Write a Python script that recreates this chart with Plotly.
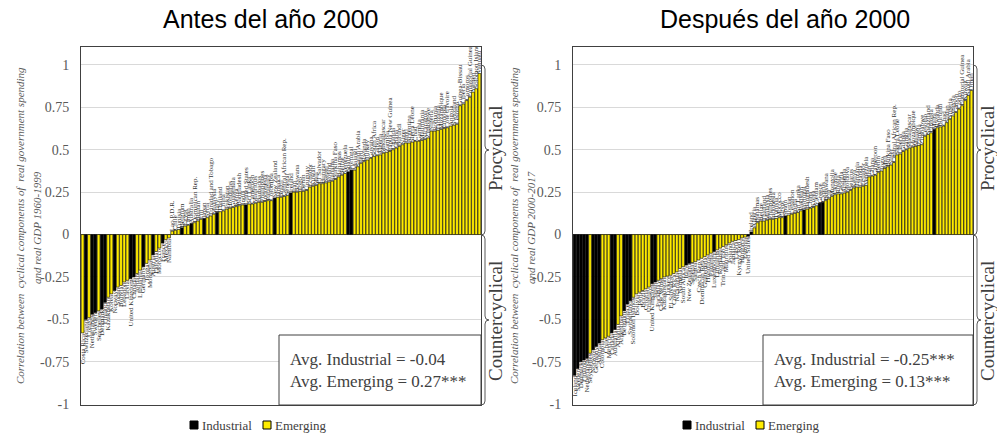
import plotly.graph_objects as go

W, H = 997, 434

# ---------------- data ----------------
industrial = ["Australia", "Austria", "Belgium", "Canada", "Denmark", "Finland", "France",
              "Germany", "Greece", "Iceland", "Ireland", "Italy", "Japan", "Luxembourg",
              "Netherlands", "New Zealand", "Norway", "Portugal", "Spain", "Sweden",
              "Switzerland", "United Kingdom", "United States", "Malta", "Cyprus"]

countries_pre = [
    "Costa Rica", "Switzerland", "Congo", "Netherlands", "Sweden", "Seychelles", "Denmark",
    "Finland", "Kazakhstan", "Korea", "Norway", "Sudan", "Bolivia", "Lebanon", "Latvia",
    "United Kingdom", "Canada", "Jordan", "Lithuania", "Germany", "Tonga", "Mongolia",
    "Austria", "Estonia", "Morocco", "France", "Mexico", "Namibia",
    "Lao P.D.R.", "Chile", "Tunisia", "Belgium", "Egypt", "Oman", "Australia",
    "Dominican Rep.", "Bhutan", "Fiji", "Japan", "Syria", "Trinidad and Tobago", "Malaysia",
    "Italy", "Thailand", "China", "Pakistan", "Honduras", "Guatemala", "Kenya", "Bangladesh",
    "India", "United States", "Sri Lanka", "Cameroon", "Mauritius", "Barbados", "Philippines",
    "Indonesia", "Paraguay", "Colombia", "New Zealand", "Jamaica", "Brazil",
    "Central African Rep.", "Senegal", "Ireland", "Iran", "Botswana", "Togo", "Benin",
    "Uruguay", "Ecuador", "Kuwait", "Mali", "El Salvador", "Hungary", "Nepal", "Poland",
    "Panama", "Burkina Faso", "Bahamas", "Belize", "Venezuela", "Spain", "Portugal", "Malawi",
    "Saudi Arabia", "Peru", "Rwanda", "Turkey", "Guyana", "South Africa", "Gabon", "Algeria",
    "Madagascar", "Zambia", "Papua New Guinea", "Uganda", "Ghana", "Burundi", "Niger", "Haiti",
    "Argentina", "Sierra Leone", "Chad", "Gambia", "Mauritania", "Nicaragua", "Zimbabwe",
    "Nigeria", "Romania", "Tanzania", "Mozambique", "Ethiopia", "Cote d'Ivoire", "Angola",
    "Swaziland", "Lesotho", "Guinea-Bissau", "Liberia", "Comoros", "Equatorial Guinea",
    "Yemen", "Solomon Islands", "Vanuatu"]

corr_pre = [
    -0.58, -0.50, -0.49, -0.47, -0.46, -0.45, -0.44, -0.40, -0.37, -0.35, -0.33, -0.31,
    -0.30, -0.28, -0.27, -0.26, -0.25, -0.23, -0.21, -0.19, -0.17, -0.15, -0.12, -0.10,
    -0.08, -0.05, -0.03, -0.02,
    0.02, 0.025, 0.03, 0.04, 0.05, 0.055, 0.065, 0.07, 0.08, 0.09, 0.095, 0.10, 0.11, 0.12,
    0.13, 0.135, 0.14, 0.15, 0.155, 0.16, 0.165, 0.17, 0.175, 0.175, 0.18, 0.18, 0.185, 0.19,
    0.19, 0.195, 0.20, 0.20, 0.215, 0.22, 0.22, 0.225, 0.23, 0.245, 0.25, 0.25, 0.255, 0.255,
    0.26, 0.28, 0.285, 0.29, 0.30, 0.30, 0.305, 0.31, 0.315, 0.325, 0.34, 0.35, 0.36, 0.37,
    0.38, 0.38, 0.40, 0.42, 0.43, 0.44, 0.45, 0.46, 0.465, 0.47, 0.48, 0.485, 0.49, 0.50,
    0.51, 0.52, 0.53, 0.54, 0.54, 0.545, 0.55, 0.55, 0.555, 0.56, 0.57, 0.61, 0.61, 0.615,
    0.62, 0.625, 0.63, 0.64, 0.645, 0.65, 0.76, 0.77, 0.79, 0.81, 0.84, 0.86, 0.95]

countries_post = [
    "Iceland", "Sweden", "Denmark", "Finland", "Netherlands", "Seychelles", "Norway",
    "Germany", "Austria", "Colombia", "Chile", "Mexico", "Canada", "Australia", "Albania",
    "Argentina", "Belgium", "France", "Switzerland", "Solomon Islands", "Bolivia", "Peru",
    "Brazil", "Croatia", "Uruguay", "United Kingdom", "Japan", "Paraguay", "Cape Verde",
    "Kazakhstan", "Turkey", "El Salvador", "Costa Rica", "Nicaragua", "Namibia",
    "South Africa", "Italy", "New Zealand", "Senegal", "Samoa", "Czech Rep.",
    "Dominican Rep.", "Guatemala", "Honduras", "Panama", "Luxembourg", "Lithuania", "Romania",
    "Trin. and Tob.", "Mauritius", "Poland", "Jamaica", "Latvia", "Kyrgyz Rep.", "Hungary",
    "Estonia", "United States",
    "Ireland", "Algeria", "Bahamas", "Belize", "Thailand", "Malaysia", "Philippines",
    "Indonesia", "Tunisia", "Morocco", "Egypt", "Spain", "Jordan", "Lebanon", "India",
    "Sri Lanka", "Pakistan", "Portugal", "Bangladesh", "China", "Korea", "Vietnam", "Greece",
    "Cyprus", "Botswana", "Fiji", "Mongolia", "Ukraine", "Russia", "Georgia", "Armenia",
    "Moldova", "Belarus", "Kenya", "Tanzania", "Uganda", "Ecuador", "Venezuela", "Iran",
    "Ghana", "Cameroon", "Benin", "Togo", "Mali", "Burkina Faso", "Niger",
    "Central African Rep.", "Sierra Leone", "Liberia", "Guinea", "Gambia", "Madagascar",
    "Mozambique", "Malawi", "Zambia", "Zimbabwe", "Lesotho", "Swaziland", "Ethiopia", "Malta",
    "Rwanda", "Burundi", "Chad", "Sudan", "Nigeria", "Angola", "Gabon", "Congo",
    "Equatorial Guinea", "Kuwait", "Saudi Arabia", "Oman"]

corr_post = [
    -0.83, -0.79, -0.75, -0.74, -0.73, -0.70, -0.68, -0.66, -0.64, -0.62, -0.61, -0.60,
    -0.58, -0.56, -0.53, -0.48, -0.45, -0.41, -0.39, -0.37, -0.35, -0.34, -0.33, -0.32,
    -0.31, -0.29, -0.28, -0.27, -0.26, -0.25, -0.245, -0.24, -0.23, -0.22, -0.20, -0.19,
    -0.18, -0.17, -0.165, -0.16, -0.15, -0.14, -0.13, -0.12, -0.11, -0.10, -0.09, -0.08,
    -0.07, -0.06, -0.05, -0.04, -0.035, -0.03, -0.02, -0.015, -0.01,
    0.015, 0.04, 0.07, 0.08, 0.08, 0.085, 0.09, 0.09, 0.095, 0.10, 0.10, 0.11, 0.115, 0.12,
    0.125, 0.13, 0.14, 0.145, 0.15, 0.155, 0.16, 0.17, 0.185, 0.19, 0.20, 0.21, 0.225, 0.235,
    0.24, 0.24, 0.245, 0.25, 0.26, 0.275, 0.28, 0.28, 0.285, 0.29, 0.34, 0.345, 0.35, 0.365,
    0.375, 0.39, 0.40, 0.41, 0.425, 0.47, 0.475, 0.49, 0.50, 0.51, 0.515, 0.52, 0.525, 0.53,
    0.58, 0.59, 0.60, 0.62, 0.63, 0.635, 0.64, 0.66, 0.68, 0.70, 0.72, 0.74, 0.76, 0.79, 0.82,
    0.85]

assert len(countries_pre) == len(corr_pre)
assert len(countries_post) == len(corr_post)

titles = ["Antes del año 2000", "Después del año 2000"]
ytitle_line1 = "Correlation between  cyclical components of  real government spending"
ytitle_line2 = ["and real GDP 1960-1999", "and real GDP 2000-2017"]
avg_text = ["Avg. Industrial = -0.04<br>Avg. Emerging = 0.27***",
            "Avg. Industrial = -0.25***<br>Avg. Emerging = 0.13***"]
tick_vals = [-1, -0.75, -0.5, -0.25, 0, 0.25, 0.5, 0.75, 1]
tick_text = ["-1", "-0.75", "-0.5", "-0.25", "0", "0.25", "0.5", "0.75", "1"]
group_names = ["Industrial", "Emerging"]
group_colors = ["#000000", "#FFEC00"]

# ---------------- helpers ----------------
def X(p):
    return p / W

def Y(p):
    return 1 - p / H

SERIF = "Liberation Serif"
GRAY = "#595959"
DARK = "#404040"

fig = go.Figure()

panels = [(countries_pre, corr_pre, "x", "y"),
          (countries_post, corr_post, "x2", "y2")]

for names, vals, xa, ya in panels:
    for gi, gname in enumerate(group_names):
        xs, ys = [], []
        for n, v in zip(names, vals):
            is_ind = n in industrial
            if (gi == 0) == is_ind:
                xs.append(n)
                ys.append(v)
        fig.add_trace(go.Bar(
            x=xs, y=ys, name=gname, text=xs, xaxis=xa, yaxis=ya, showlegend=False,
            marker=dict(color=group_colors[gi], line=dict(color="#000000", width=0.6)),
            textposition="outside", textangle=-90, constraintext="none",
            textfont=dict(family=SERIF, size=7, color="#333333"),
            hovertemplate="%{x}: %{y:.2f}<extra></extra>"))

x_domains = [[81 / W, 481 / W], [573 / W, 973 / W]]
y_domain = [(H - 405) / H, (H - 47) / H]

axis_common = dict(showline=True, linecolor=DARK, linewidth=1, mirror=True)
for k, (names, vals, xa, ya) in enumerate(panels):
    xkey = "xaxis" if k == 0 else "xaxis2"
    ykey = "yaxis" if k == 0 else "yaxis2"
    fig.layout[xkey] = dict(domain=x_domains[k], type="category", categoryorder="array",
                            categoryarray=names, showticklabels=False, showgrid=False,
                            ticks="", anchor=ya, **axis_common)
    fig.layout[ykey] = dict(domain=y_domain, range=[-1.005, 1.106], tickvals=tick_vals,
                            ticktext=tick_text, showgrid=True, gridcolor="#d9d9d9",
                            zeroline=True, zerolinecolor="#808080", zerolinewidth=1,
                            ticks="", ticklabelstandoff=8, anchor=xa,
                            tickfont=dict(family=SERIF, size=14, color=GRAY), **axis_common)

annotations = []
shapes = []
# panel geometry in pixels
geo = [dict(cx=270, plot_r=481, box_l=279, text_l=288, brace=485, lab=495, yt1=20, yt2=37, leg=190),
       dict(cx=785, plot_r=973, box_l=763, text_l=772, brace=977, lab=987, yt1=514, yt2=531, leg=683)]

def brace_path(x0, ytop, ybot, d=4.0, tip=4.0):
    ym = (ytop + ybot) / 2
    pts = [
        f"M {X(x0 - d)},{Y(ytop)}",
        f"Q {X(x0)},{Y(ytop)} {X(x0)},{Y(ytop + d)}",
        f"L {X(x0)},{Y(ym - d)}",
        f"Q {X(x0)},{Y(ym)} {X(x0 + tip)},{Y(ym)}",
        f"Q {X(x0)},{Y(ym)} {X(x0)},{Y(ym + d)}",
        f"L {X(x0)},{Y(ybot - d)}",
        f"Q {X(x0)},{Y(ybot)} {X(x0 - d)},{Y(ybot)}",
    ]
    return " ".join(pts)

for k, g in enumerate(geo):
    annotations.append(dict(x=X(g["cx"]), y=Y(19), xref="paper", yref="paper", text=titles[k],
                            showarrow=False, xanchor="center", yanchor="middle",
                            font=dict(family="Liberation Sans", size=25, color="#000000")))
    annotations.append(dict(x=X(g["yt1"]), y=Y(226), xref="paper", yref="paper",
                            text="<i>" + ytitle_line1 + "</i>",
                            showarrow=False, textangle=-90, xanchor="center", yanchor="middle",
                            font=dict(family=SERIF, size=11, color=GRAY)))
    annotations.append(dict(x=X(g["yt2"]), y=Y(228), xref="paper", yref="paper",
                            text="<i>" + ytitle_line2[k] + "</i>",
                            showarrow=False, textangle=-90, xanchor="center", yanchor="middle",
                            font=dict(family=SERIF, size=11, color=GRAY)))
    shapes.append(dict(type="rect", xref="paper", yref="paper", x0=X(g["box_l"]), x1=X(g["plot_r"]),
                       y0=Y(335), y1=Y(405), line=dict(color=DARK, width=1), fillcolor="white",
                       layer="above"))
    annotations.append(dict(x=X(g["text_l"]), y=Y(370), xref="paper", yref="paper", text=avg_text[k],
                            showarrow=False, xanchor="left", yanchor="middle", align="left",
                            font=dict(family=SERIF, size=17, color=DARK)))
    shapes.append(dict(type="path", xref="paper", yref="paper",
                       path=brace_path(g["brace"], 65, 235), line=dict(color=GRAY, width=1)))
    shapes.append(dict(type="path", xref="paper", yref="paper",
                       path=brace_path(g["brace"], 235, 405), line=dict(color=GRAY, width=1)))
    annotations.append(dict(x=X(g["lab"]), y=Y(149), xref="paper", yref="paper", text="Procyclical",
                            showarrow=False, textangle=-90, xanchor="center", yanchor="middle",
                            font=dict(family=SERIF, size=19, color=DARK)))
    annotations.append(dict(x=X(g["lab"]), y=Y(321), xref="paper", yref="paper", text="Countercyclical",
                            showarrow=False, textangle=-90, xanchor="center", yanchor="middle",
                            font=dict(family=SERIF, size=19, color=DARK)))
    # compact legend: small square swatches + labels
    lx = g["leg"]
    for gi, gname in enumerate(group_names):
        sx = lx + gi * 73
        shapes.append(dict(type="rect", xref="paper", yref="paper", x0=X(sx), x1=X(sx + 8),
                           y0=Y(429), y1=Y(421), fillcolor=group_colors[gi],
                           line=dict(color="#000000", width=1)))
        annotations.append(dict(x=X(sx + 9.5), y=Y(425), xref="paper", yref="paper", text=gname,
                                showarrow=False, xanchor="left", yanchor="middle",
                                font=dict(family=SERIF, size=13, color=DARK)))

fig.update_layout(
    width=W, height=H, margin=dict(l=0, r=0, t=0, b=0, pad=0, autoexpand=False),
    paper_bgcolor="white", plot_bgcolor="white",
    barmode="overlay", bargap=0.12,
    showlegend=False,
    annotations=annotations, shapes=shapes,
)

fig.write_html("out.html")
